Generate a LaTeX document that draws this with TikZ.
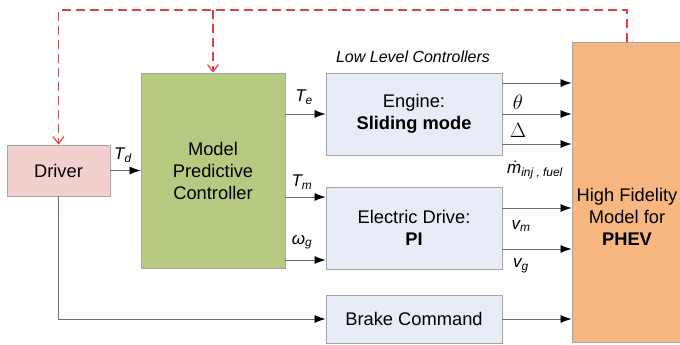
\documentclass[tikz,border=0pt]{standalone}
\usepackage{fontspec}
\setmainfont{Liberation Sans}
\usetikzlibrary{arrows.meta}
\definecolor{drvfill}{RGB}{242,208,206}
\definecolor{mpcfill}{RGB}{182,202,130}
\definecolor{llcfill}{RGB}{232,236,246}
\definecolor{plantfill}{RGB}{248,183,128}
\definecolor{boxline}{RGB}{165,165,165}
\definecolor{sigline}{RGB}{110,110,110}
\definecolor{fbred}{RGB}{232,64,64}
\tikzset{
  block/.style={draw=boxline, line width=0.9pt, align=center,
    font=\fontsize{18.3}{22}\selectfont},
  sig/.style={draw=sigline, line width=0.8pt, -{Latex[black,length=11pt,width=8pt]}},
  feedback/.style={draw=fbred, line width=1.2pt, dash pattern=on 9pt off 5pt,
    -{Straight Barb[length=7pt,width=11pt]}},
  lbl/.style={font=\fontsize{17}{18}\selectfont\itshape, inner sep=0pt},
}

\begin{document}
\begin{tikzpicture}[x=1pt, y=-1pt]
        \useasboundingbox (0,0) rectangle (680,345);
        \node[block, fill=drvfill, minimum width=103pt, minimum height=51pt] (drv) at (58.5,170.5) {Driver};
        \node[block, fill=mpcfill, minimum width=144pt, minimum height=195pt] (mpc) at (213,170.5) {Model\\Predictive\\Controller};
        \node[block, fill=llcfill, minimum width=176pt, minimum height=82pt] (eng) at (414,114) {Engine:\\\textbf{Sliding mode}};
        \node[block, fill=llcfill, minimum width=176pt, minimum height=82pt] (ed) at (414,228) {Electric Drive:\\\textbf{PI}};
        \node[block, fill=llcfill, minimum width=176pt, minimum height=48pt] (brk) at (414,319) {Brake Command};
        \node[block, fill=plantfill, minimum width=110pt, minimum height=300pt] (phev) at (627,192) {};
        \node[block, draw=none] (phevlbl) at (627,217) {High Fidelity\\Model for\\\textbf{PHEV}};
        \node[font=\fontsize{16}{18}\selectfont\itshape] (llc) at (413,57) {Low Level Controllers};
        % signals
        \draw[sig] (drv.east) -- (drv.east -| mpc.west);
        \draw[sig] (eng.west -| mpc.east) -- (eng.west);
        \draw[sig] ([yshift=31pt]ed.west -| mpc.east) -- ([yshift=31pt]ed.west);
        \draw[sig] ([yshift=-32pt]ed.west -| mpc.east) -- ([yshift=-32pt]ed.west);
        \draw[sig] ([yshift=31pt]eng.east) -- ([yshift=31pt]eng.east -| phev.west);
        \draw[sig] (eng.east) -- (eng.east -| phev.west);
        \draw[sig] ([yshift=-30pt]eng.east) -- ([yshift=-30pt]eng.east -| phev.west);
        \draw[sig] ([yshift=20pt]ed.east) -- ([yshift=20pt]ed.east -| phev.west);
        \draw[sig] ([yshift=-21pt]ed.east) -- ([yshift=-21pt]ed.east -| phev.west);
        \draw[sig] (drv.south) |- (brk.west);
        \draw[sig] (brk.east) -- (brk.east -| phev.west);
        % feedback from the plant
        \coordinate (fb) at (0,10);
        \draw[feedback] (phev.north) |- (fb -| drv.north) -- (drv.north);
        \draw[feedback] (fb -| mpc.north) -- (mpc.north);
        % signal names
        \node[lbl] (td) at (123,155) {T\textsubscript{d}};
        \node[lbl] (te) at (304,97) {T\textsubscript{e}};
        \node[lbl] (tm) at (302,182) {T\textsubscript{m}};
        \node[lbl] (wg) at (302,242) {ω\textsubscript{g}};
        \node[lbl, font=\fontsize{20}{20}\selectfont] (th) at (518,102) {$\theta$};
        \node[lbl, font=\fontsize{20}{20}\selectfont] (dl) at (518,130) {$\Delta$};
        \node[lbl] (mf) at (535,170) {ṁ\textsubscript{inj , fuel}};
        \node[lbl] (vm) at (521,226) {v\textsubscript{m}};
        \node[lbl] (vg) at (521,266) {v\textsubscript{g}};
    \end{tikzpicture}
\end{document}
